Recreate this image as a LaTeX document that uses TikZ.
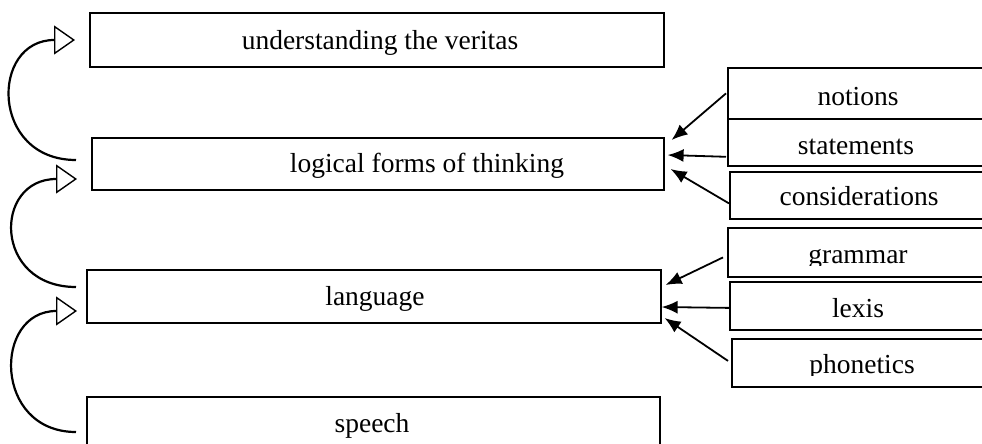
\documentclass[tikz,border=0pt]{standalone}
\usepackage{fontspec}
\setmainfont{Liberation Serif}
\usetikzlibrary{arrows.meta,calc}
\begin{document}
\begin{tikzpicture}[x=1pt,y=-1pt,
  box/.style={draw=black,line width=1.6pt,inner sep=0pt,anchor=north west},
  sbox/.style={draw=black,line width=1.8pt,inner sep=0pt,anchor=north west},
  lbl/.style={font=\fontsize{27.5}{31}\selectfont,anchor=base,inner sep=0pt},
  feed/.style={line width=1.8pt,-{Latex[length=16pt,width=13pt]}},
  rise/.style={line width=2.2pt,-{Triangle[open,length=21pt,width=29pt,fill=white,line width=1.4pt]}}]
\clip (0,0) rectangle (982,444);
\fill[white] (0,0) rectangle (982,444);
% main boxes
\node[box,minimum width=574pt,minimum height=54pt] (und) at (89,12) {};
\node[box,minimum width=572pt,minimum height=52pt] (log) at (91,137) {};
\node[box,minimum width=574pt,minimum height=53pt] (lang) at (86,269) {};
\node[box,minimum width=573pt,minimum height=64pt] (sp) at (86,396) {};
% side boxes
\node[sbox,minimum width=280pt,minimum height=51pt] (not) at (727,67) {};
\node[sbox,minimum width=280pt,minimum height=47pt] (sta) at (727,118) {};
\node[sbox,minimum width=280pt,minimum height=47pt] (con) at (729,171) {};
\node[sbox,minimum width=280pt,minimum height=49pt] (gra) at (727,227) {};
\node[sbox,minimum width=280pt,minimum height=48pt] (lex) at (729,281) {};
\node[sbox,minimum width=280pt,minimum height=48pt] (pho) at (731,338) {};
% texts
\node[lbl] (tund) at (380,50) {understanding the veritas};
\node[lbl] (tlog) at (427,172) {logical forms of thinking};
\node[lbl] (tlang) at (375,305) {language};
\node[lbl] (tsp) at (372,432) {speech};
\node[lbl] (tnot) at (858,105) {notions};
\node[lbl] (tsta) at (856,154) {statements};
\node[lbl] (tcon) at (859,205) {considerations};
\begin{scope}
\clip (727,227) rectangle (982,265.5);
\node[lbl] (tgra) at (858,263) {grammar};
\end{scope}
\node[lbl] (tlex) at (858,317) {lexis};
\begin{scope}
\clip (731,338) rectangle (982,375);
\node[lbl] (tpho) at (862,373) {phonetics};
\end{scope}
% feeding arrows
\draw[feed] ($(not.west)+(-1,0)$) -- ($(log.north east)+(7,3)$);
\draw[feed] ($(sta.south west)+(-1,-10)$) -- ($(log.north east)+(3,18)$);
\draw[feed] ($(con.west)+(0,8)$) -- ($(log.north east)+(6,32)$);
\draw[feed] ($(gra.west)+(-4,5)$) -- ($(lang.north east)+(4,16)$);
\draw[feed] ($(lex.west)+(0,2)$) -- ($(lang.north east)+(0,38)$);
\draw[feed] ($(pho.west)+(-3,-2)$) -- ($(lang.north east)+(3,49)$);
% rising curved arrows
\draw[rise] ($(log.north west)+(-15,23)$) .. controls (-10,160) and (-10,40) .. ($(und.north west)+(-14,28)$);
\draw[rise] ($(lang.north west)+(-10,18)$) .. controls (-7,287) and (-7,179) .. ($(log.north west)+(-14,42)$);
\draw[rise] ($(sp.north west)+(-10,36)$) .. controls (-7,432) and (-7,311) .. ($(lang.north west)+(-9,42)$);
\end{tikzpicture}
\end{document}
